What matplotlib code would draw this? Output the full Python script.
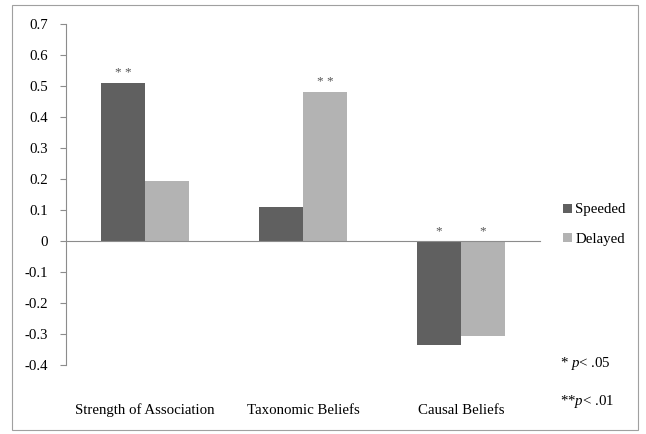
import matplotlib
matplotlib.use("Agg")
import matplotlib.pyplot as plt
import numpy as np
from matplotlib.patches import Rectangle

categories = ["Strength of Association", "Taxonomic Beliefs", "Causal Beliefs"]
speeded = [0.51, 0.11, -0.335]
delayed = [0.194, 0.48, -0.306]
speeded_sig = ["* *", "", "*"]
delayed_sig = ["", "* *", "*"]
yticks = [-0.4, -0.3, -0.2, -0.1, 0, 0.1, 0.2, 0.3, 0.4, 0.5, 0.6, 0.7]
ytick_labels = ["-0.4", "-0.3", "-0.2", "-0.1", "0", "0.1", "0.2", "0.3", "0.4", "0.5", "0.6", "0.7"]

plt.rcParams["mathtext.fontset"] = "custom"
plt.rcParams["mathtext.rm"] = "Liberation Serif"
plt.rcParams["mathtext.it"] = "Liberation Serif:italic"

serif = ["Liberation Serif", "DejaVu Serif"]
dark = "#606060"
light = "#b3b3b3"
axc = "#8c8c8c"
fs = 10.7

fig = plt.figure(figsize=(6.46, 4.34), dpi=100)
fig.patches.append(Rectangle((12/646, 4/434), 626/646, 425/434, transform=fig.transFigure,
                             fill=False, edgecolor="#a0a0a0", linewidth=0.8))
ax = fig.add_axes([66/646, 69/434, 474/646, 341/434])

x = np.arange(len(categories))
w = 0.28
ax.bar(x - w/2, speeded, width=w, color=dark, label="Speeded", zorder=2)
ax.bar(x + w/2, delayed, width=w, color=light, label="Delayed", zorder=2)

ax.set_xlim(-0.5, len(categories) - 0.5)
ax.set_ylim(-0.4, 0.7)
ax.set_yticks(yticks)
ax.set_yticklabels(ytick_labels, fontfamily=serif, fontsize=fs)
ax.tick_params(axis="y", direction="out", length=4, color=axc, pad=9)
ax.set_xticks([])

for s in ["top", "right"]:
    ax.spines[s].set_visible(False)
ax.spines["left"].set_color(axc)
ax.spines["bottom"].set_position(("data", 0))
ax.spines["bottom"].set_color(axc)

for i, cat in enumerate(categories):
    ax.text(x[i], -0.132, cat, transform=ax.get_xaxis_transform(), ha="center", va="center",
            fontfamily=serif, fontsize=fs)

def star_y(v):
    return v + 0.012 if v > 0 else 0.012

for i in range(len(categories)):
    if speeded_sig[i]:
        ax.text(x[i] - w/2, star_y(speeded[i]), speeded_sig[i], ha="center", va="bottom",
                fontfamily=serif, fontsize=9.5, color="#555555")
    if delayed_sig[i]:
        ax.text(x[i] + w/2, star_y(delayed[i]), delayed_sig[i], ha="center", va="bottom",
                fontfamily=serif, fontsize=9.5, color="#555555")

leg = fig.legend(loc="upper left", bbox_to_anchor=(550/646, 1 - 190/434), frameon=False,
                 prop={"family": serif, "size": fs}, handlelength=0.55, handleheight=0.55,
                 handletextpad=0.25, labelspacing=1.1)

fig.text(560/646, 1 - 363/434, r"* $\it{p}$< .05", fontfamily=serif, fontsize=fs, va="center")
fig.text(560/646, 1 - 401/434, r"**$\it{p}$< .01", fontfamily=serif, fontsize=fs, va="center")

fig.savefig("out.png", dpi=100)
